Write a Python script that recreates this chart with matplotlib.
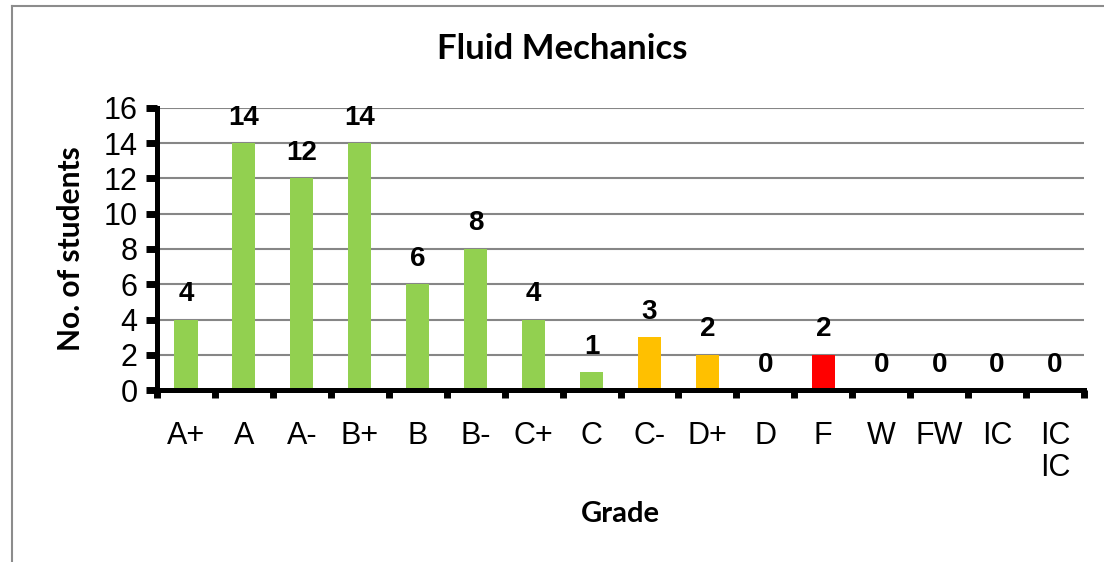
import matplotlib
matplotlib.use("Agg")
import matplotlib.pyplot as plt
from matplotlib.lines import Line2D

grades = ["A+", "A", "A-", "B+", "B", "B-", "C+", "C", "C-", "D+", "D", "F", "W", "FW", "IC", "IC\nIC"]
students = [4, 14, 12, 14, 6, 8, 4, 1, 3, 2, 0, 2, 0, 0, 0, 0]
bar_colors = ["#92D050"] * 8 + ["#FFC000", "#FFC000", "#FFC000", "#FF0000", "#FF0000", "#FF0000", "#FF0000", "#FF0000"]
title = "Fluid Mechanics"
y_ticks = [0, 2, 4, 6, 8, 10, 12, 14, 16]

fig = plt.figure(figsize=(11.04, 5.62), dpi=100)
ax = fig.add_axes([157/1104, 1-390/562, (1084-157)/1104, (390-108)/562])

x = list(range(len(grades)))
ax.bar(x, students, width=0.4, color=bar_colors, zorder=3)

for xi, v in zip(x, students):
    ax.annotate(str(v), (xi, v), xytext=(0, 9), textcoords="offset points",
                ha="center", va="bottom", fontsize=20, fontweight="bold",
                family="Liberation Sans", zorder=4)

ax.set_xlim(-0.5, len(grades) - 0.5)
ax.set_ylim(0, 16)
ax.set_yticks(y_ticks)
ax.set_yticklabels([str(t) for t in y_ticks], fontsize=22, family="Liberation Sans")
ax.yaxis.grid(True, color="#868686", linewidth=1.5, zorder=0)
ax.set_axisbelow(True)

# x major ticks at category boundaries, labels at centers via minor ticks
ax.set_xticks([i - 0.5 for i in range(len(grades) + 1)])
ax.set_xticklabels([])
ax.set_xticks(x, minor=True)
ax.set_xticklabels(grades, minor=True, fontsize=22, family="Liberation Sans", va="top",
                   linespacing=1.1)
ax.tick_params(axis="x", which="minor", length=0, pad=22)
ax.tick_params(axis="x", which="major", length=6, width=5, direction="out")
ax.tick_params(axis="y", which="major", length=8, width=5, direction="out", pad=6)

for s in ["top", "right"]:
    ax.spines[s].set_visible(False)
for s in ["left", "bottom"]:
    ax.spines[s].set_linewidth(3.6)
    ax.spines[s].set_color("black")
    ax.spines[s].set_zorder(5)

ax.set_ylabel("No. of students", fontsize=21.5, fontweight="bold", family="Lato", labelpad=13)
ax.set_xlabel("Grade", fontsize=21, fontweight="bold", family="Lato", labelpad=13)
fig.text(562/1104, 1-49/562, title, ha="center", va="center", fontsize=25,
         fontweight="bold", family="Lato")

# chart area border (left and top visible)
fig.add_artist(Line2D([12/1104, 12/1104], [0, 1-6/562], color="#8c8c8c", lw=1.5,
                      transform=fig.transFigure))
fig.add_artist(Line2D([12/1104, 1], [1-6/562, 1-6/562], color="#8c8c8c", lw=1.5,
                      transform=fig.transFigure))

fig.savefig("out.png", dpi=100)
